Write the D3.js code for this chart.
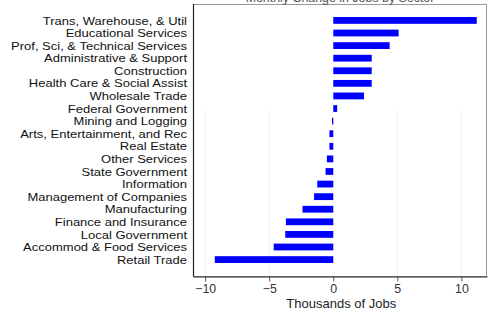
<!DOCTYPE html>
<html>
<head>
<meta charset="utf-8">
<script src="https://cdn.jsdelivr.net/npm/d3@7"></script>
<style>
  body { margin: 0; background: #fff; }
  text { font-family: "Liberation Sans", Arial, sans-serif; }
</style>
</head>
<body>
<div id="chart"></div>
<script>
var sectors = ["Trans, Warehouse, & Util", "Educational Services", "Prof, Sci, & Technical Services",
    "Administrative & Support", "Construction", "Health Care & Social Assist", "Wholesale Trade",
    "Federal Government", "Mining and Logging", "Arts, Entertainment, and Rec", "Real Estate",
    "Other Services", "State Government", "Information", "Management of Companies",
    "Manufacturing", "Finance and Insurance", "Local Government", "Accommod & Food Services",
    "Retail Trade"]
var jobs = [11.2, 5.1, 4.4, 3.0, 3.0, 3.0, 2.4, 0.3, -0.1, -0.3, -0.3, -0.5, -0.6, -1.25, -1.5,
    -2.4, -3.7, -3.75, -4.65, -9.25]
var tickValues = [-10, -5, 0, 5, 10]

var width = 488, height = 312
var margin = {top: 4, left: 193, right: 1, bottom: 36}

var svg = d3.select("#chart").append("svg")
    .attr("width", width).attr("height", height)

var x = d3.scaleLinear().domain([-10.95, 12]).range([margin.left, width - margin.right])
var y = d3.scaleBand().domain(sectors)
    .range([14.5, 265.5]).paddingInner(0.46).paddingOuter(0.2)

// faint grid
svg.append("g").selectAll("line")
    .data(tickValues.filter(function(d) { return d != 0 }))
    .enter().append("line")
    .attr("x1", function(d) { return x(d) }).attr("x2", function(d) { return x(d) })
    .attr("y1", 110).attr("y2", height - margin.bottom)
    .attr("stroke", "#ededed").attr("stroke-width", 1)

// frame
svg.append("rect")
    .attr("x", margin.left + 0.5).attr("y", margin.top + 0.5)
    .attr("width", width - margin.left - margin.right - 1)
    .attr("height", height - margin.top - margin.bottom)
    .attr("fill", "none").attr("stroke", "#999")

// bars
svg.append("g").selectAll("rect")
    .data(jobs)
    .enter().append("rect")
    .attr("x", function(d) { return x(Math.min(0, d)) })
    .attr("width", function(d) { return Math.abs(x(d) - x(0)) })
    .attr("y", function(d, i) { return y(sectors[i]) })
    .attr("height", y.bandwidth())
    .attr("fill", "#0000ff")

// category labels (wide-set face, stretched so rows don't collide)
svg.append("g").selectAll("text")
    .data(sectors)
    .enter().append("text")
    .attr("transform", function(d) {
        return "translate(" + (margin.left - 6) + "," + (y(d) + y.bandwidth() / 2) + ") scale(1.14,1)"
    })
    .attr("dy", "0.36em")
    .attr("text-anchor", "end")
    .attr("font-size", "11.4px")
    .attr("fill", "#111")
    .text(function(d) { return d })

// left axis line
svg.append("line")
    .attr("x1", margin.left + 0.5).attr("x2", margin.left + 0.5)
    .attr("y1", margin.top).attr("y2", height - margin.bottom + 0.5)
    .attr("stroke", "#222").attr("stroke-width", 1.2)

// bottom axis
var xAxis = svg.append("g")
    .attr("transform", "translate(0," + (height - margin.bottom + 0.5) + ")")
    .call(d3.axisBottom(x).tickValues(tickValues).tickSize(5).tickSizeOuter(0).tickPadding(3)
        .tickFormat(d3.format("d")))
xAxis.select(".domain").attr("stroke", "#222").attr("stroke-width", 1.2)
xAxis.selectAll(".tick line").attr("stroke", "#555")
xAxis.selectAll("text").attr("font-size", "12.4px").attr("fill", "#333")
    .attr("font-family", "Liberation Sans, Arial, sans-serif")

svg.append("text")
    .attr("x", x(0) + 8).attr("y", 308)
    .attr("text-anchor", "middle")
    .attr("font-size", "13px").attr("fill", "#222")
    .text("Thousands of Jobs")

// title, mostly clipped by the top edge as in the original
svg.append("text")
    .attr("x", 340).attr("y", 2)
    .attr("text-anchor", "middle")
    .attr("font-size", "12.4px").attr("fill", "#555")
    .text("Monthly Change in Jobs by Sector")
</script>
</body>
</html>
